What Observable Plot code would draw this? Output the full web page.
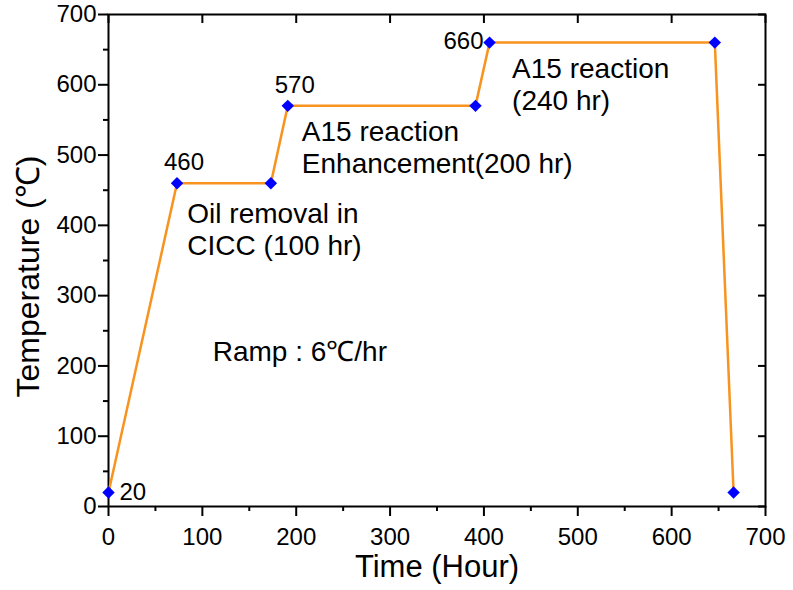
<!DOCTYPE html>
<html><head><meta charset="utf-8">
<script src="https://cdn.jsdelivr.net/npm/d3@7"></script>
<script src="https://cdn.jsdelivr.net/npm/@observablehq/plot@0.6"></script>
<style>
body{margin:0;background:#fff}
svg{font-family:"Liberation Sans",Arial,sans-serif}
</style>
</head><body><div id="chart"></div>
<script>
// Heat-treatment schedule
const timeHours = [0, 73, 173, 191, 391, 406, 646, 666];
const tempC     = [20, 460, 460, 570, 570, 660, 660, 20];

// Value labels at selected points
const valueLabelText = ["20", "460", "570", "660"];
const valueLabelX    = [0, 73, 191, 406];
const valueLabelY    = [20, 460, 570, 660];

// Annotations (data coordinates of the top-left of each block)
const noteText = ["Oil removal in\nCICC (100 hr)", "A15 reaction\nEnhancement(200 hr)", "A15 reaction\n(240 hr)", "Ramp : 6\u2103/hr"];
const noteX = [84, 206, 430, 111];
const noteY = [436, 553, 642, 240];

const majorTicks = [0, 100, 200, 300, 400, 500, 600, 700];
const minorTicks = [50, 150, 250, 350, 450, 550, 650];

const xTitle = "Time (Hour)";
const yTitle = "Temperature (\u2103)";

const pts = timeHours.map((t, i) => ({t, c: tempC[i]}));
const vl = valueLabelText.map((s, i) => ({s, x: valueLabelX[i], y: valueLabelY[i]}));
const notes = noteText.map((s, i) => ({s, x: noteX[i], y: noteY[i]}));

const font = "Liberation Sans, Arial, sans-serif";

const chart = Plot.plot({
  width: 793,
  height: 590,
  marginLeft: 108,
  marginRight: 28,
  marginTop: 14,
  marginBottom: 84,
  style: {fontFamily: font, color: "black", background: "white"},
  x: {domain: [0, 700]},
  y: {domain: [0, 700]},
  marks: [
    // bottom axis
    Plot.axisX({ticks: majorTicks, tickSize: 10, tickPadding: 11, fontSize: 24, strokeWidth: 2, label: null}),
    Plot.axisX({ticks: minorTicks, tickSize: 5, tickFormat: () => "", strokeWidth: 2, label: null}),
    // left axis
    Plot.axisY({ticks: majorTicks, tickSize: 10, tickPadding: 2, fontSize: 24, strokeWidth: 2, label: null}),
    Plot.axisY({ticks: minorTicks, tickSize: 5, tickFormat: () => "", strokeWidth: 2, label: null}),
    // top & right inward ticks
    Plot.axisX({anchor: "top", ticks: majorTicks, tickSize: -8, tickFormat: () => "", strokeWidth: 2, label: null}),
    Plot.axisY({anchor: "right", ticks: majorTicks, tickSize: -8, tickFormat: () => "", strokeWidth: 2, label: null}),
    Plot.frame({stroke: "black", strokeWidth: 2}),
    Plot.line(pts, {x: "t", y: "c", stroke: "#F7931E", strokeWidth: 2.5}),
    Plot.dot(pts, {x: "t", y: "c", symbol: "diamond2", r: 5.6, fill: "#0000FF", stroke: "none"}),
    // value labels
    Plot.text(vl.filter(d => d.s === "20"), {x: "x", y: "y", text: "s", dx: 11, textAnchor: "start", fontSize: 24}),
    Plot.text(vl.filter(d => d.s === "460" || d.s === "570"), {x: "x", y: "y", text: "s", dx: 7, dy: -21, textAnchor: "middle", fontSize: 24}),
    Plot.text(vl.filter(d => d.s === "660"), {x: "x", y: "y", text: "s", dx: -6, dy: -1, textAnchor: "end", fontSize: 24}),
    // annotations
    Plot.text(notes, {x: "x", y: "y", text: "s", textAnchor: "start", lineAnchor: "top", lineHeight: 1.15, fontSize: 28}),
    // axis titles
    Plot.text([xTitle], {frameAnchor: "bottom", textAnchor: "middle", lineAnchor: "middle", dy: 61, fontSize: 31}),
    Plot.text([yTitle], {frameAnchor: "left", textAnchor: "middle", lineAnchor: "middle", rotate: -90, dx: -80, dy: 16, fontSize: 32})
  ]
});
document.getElementById("chart").appendChild(chart);
</script>
</body></html>
